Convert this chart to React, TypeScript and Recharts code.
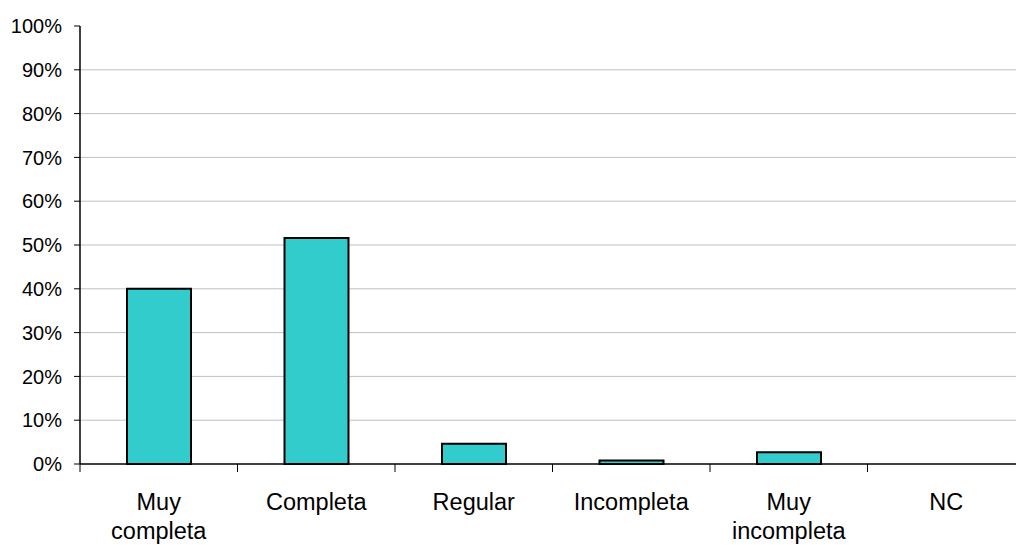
import { BarChart, Bar, XAxis, YAxis, CartesianGrid } from "recharts";

const categories = ["Muy completa", "Completa", "Regular", "Incompleta", "Muy incompleta", "NC"];
const percentages = [40, 51.6, 4.6, 0.8, 2.7, 0];
const yTicks = [0, 10, 20, 30, 40, 50, 60, 70, 80, 90, 100];
const gridValues = [10, 20, 30, 40, 50, 60, 70, 80, 90];

const data = categories.map((name, i) => ({ name, value: percentages[i] }));

const FONT = "'Liberation Sans', Arial, sans-serif";
const CHART_W = 1030;
const Y_AXIS_W = 80;
const RIGHT = 5;
const BAND = (CHART_W - Y_AXIS_W - RIGHT) / categories.length;

function CategoryTick({ x, y, payload, index }: any) {
  const words: string[] = payload.value.split(" ");
  const last = index === categories.length - 1;
  return (
    <g>
      <line x1={x - BAND / 2} x2={x - BAND / 2} y1={y} y2={y + 8} stroke="#000" strokeWidth={1} />
      {last && <line x1={x + BAND / 2} x2={x + BAND / 2} y1={y} y2={y + 8} stroke="#000" strokeWidth={1} />}
      <text x={x} y={y} textAnchor="middle" fontFamily={FONT} fontSize={23.5} fill="#000">
        {words.map((w, i) => (
          <tspan key={i} x={x} dy={i === 0 ? 46 : 29}>
            {w}
          </tspan>
        ))}
      </text>
    </g>
  );
}

export default function App() {
  return (
    <div style={{ position: "absolute", left: 0, top: 0, width: 1016, height: 545, overflow: "hidden", background: "#fff" }}>
      <BarChart width={CHART_W} height={545} data={data} margin={{ top: 26, right: RIGHT, left: 0, bottom: 0 }} barCategoryGap={0}>
        <CartesianGrid vertical={false} horizontalValues={gridValues} stroke="#c0c0c0" strokeWidth={1} />
        <XAxis
          dataKey="name"
          height={81}
          interval={0}
          tickSize={0}
          tickMargin={0}
          tickLine={false}
          axisLine={{ stroke: "#000", strokeWidth: 1.5 }}
          tick={<CategoryTick />}
        />
        <YAxis
          width={Y_AXIS_W}
          domain={[0, 100]}
          ticks={yTicks}
          interval={0}
          tickFormatter={(v: number) => `${v}%`}
          tickSize={6}
          tickMargin={12}
          axisLine={{ stroke: "#000", strokeWidth: 1.5 }}
          tickLine={{ stroke: "#000", strokeWidth: 1 }}
          tick={{ fill: "#000", fontSize: 20, fontFamily: FONT }}
        />
        <Bar dataKey="value" fill="#33CCCC" stroke="#000" strokeWidth={2} barSize={64} isAnimationActive={false} />
      </BarChart>
    </div>
  );
}
